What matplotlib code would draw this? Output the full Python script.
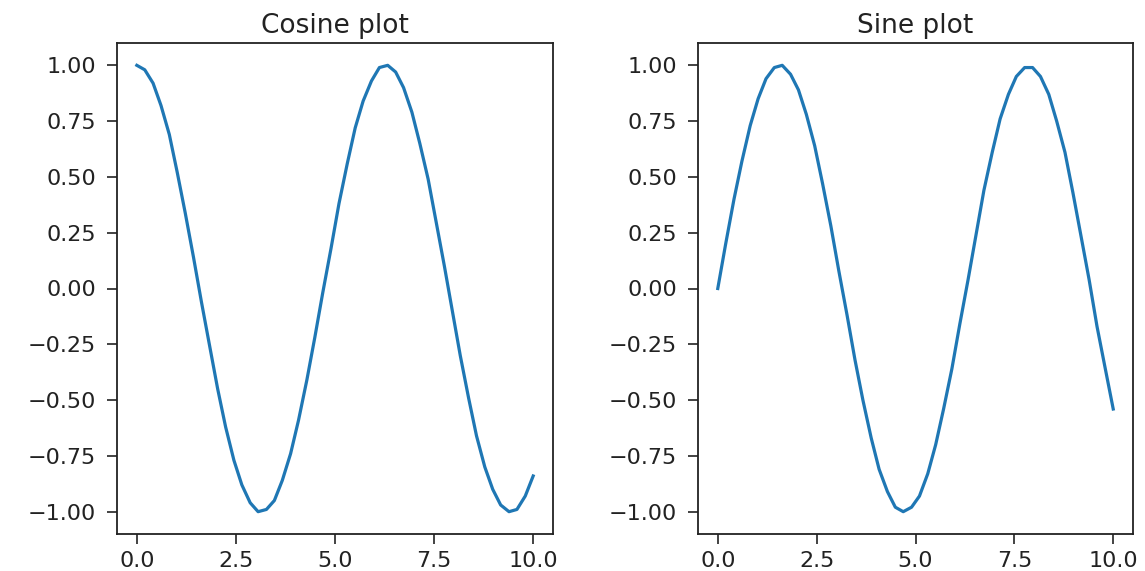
import matplotlib
matplotlib.use('Agg')
import matplotlib.pyplot as plt

# points (50 samples over 0..10)
x = [0.00, 0.20, 0.41, 0.61, 0.82, 1.02, 1.22, 1.43, 1.63, 1.84,
     2.04, 2.24, 2.45, 2.65, 2.86, 3.06, 3.27, 3.47, 3.67, 3.88,
     4.08, 4.29, 4.49, 4.69, 4.90, 5.10, 5.31, 5.51, 5.71, 5.92,
     6.12, 6.33, 6.53, 6.73, 6.94, 7.14, 7.35, 7.55, 7.76, 7.96,
     8.16, 8.37, 8.57, 8.78, 8.98, 9.18, 9.39, 9.59, 9.80, 10.00]

cos_y = [1.00, 0.98, 0.92, 0.82, 0.69, 0.52, 0.34, 0.14, -0.06, -0.26,
         -0.45, -0.62, -0.77, -0.88, -0.96, -1.00, -0.99, -0.95, -0.86, -0.74,
         -0.59, -0.41, -0.22, -0.02, 0.18, 0.38, 0.56, 0.72, 0.84, 0.93,
         0.99, 1.00, 0.97, 0.90, 0.79, 0.65, 0.49, 0.30, 0.10, -0.10,
         -0.30, -0.49, -0.66, -0.80, -0.90, -0.97, -1.00, -0.99, -0.93, -0.84]

sin_y = [0.00, 0.20, 0.40, 0.57, 0.73, 0.85, 0.94, 0.99, 1.00, 0.96,
         0.89, 0.78, 0.64, 0.47, 0.28, 0.08, -0.12, -0.32, -0.50, -0.67,
         -0.81, -0.91, -0.98, -1.00, -0.98, -0.93, -0.83, -0.70, -0.54, -0.36,
         -0.16, 0.04, 0.24, 0.44, 0.61, 0.76, 0.87, 0.95, 0.99, 0.99,
         0.95, 0.87, 0.75, 0.61, 0.43, 0.24, 0.04, -0.17, -0.36, -0.54]

titles = ['Cosine plot', 'Sine plot']

plt.rcParams['text.color'] = '#222222'
plt.rcParams['xtick.color'] = '#222222'
plt.rcParams['ytick.color'] = '#222222'
plt.rcParams['axes.edgecolor'] = '#222222'

fig = plt.figure(figsize=(11.45, 5.71), dpi=100)
W, H = 1145, 571
ax1 = fig.add_axes([117 / W, (H - 534) / H, 436 / W, 491 / H])
ax2 = fig.add_axes([698 / W, (H - 534) / H, 435 / W, 491 / H])

for ax, y, t in zip([ax1, ax2], [cos_y, sin_y], titles):
    ax.plot(x, y, color='#1f77b4', linewidth=2.3)
    ax.set_title(t, fontsize=19, pad=7)
    ax.set_xticks([0.0, 2.5, 5.0, 7.5, 10.0])
    ax.set_yticks([-1.0, -0.75, -0.5, -0.25, 0.0, 0.25, 0.5, 0.75, 1.0])
    ax.tick_params(axis='y', labelsize=16, width=1.2, length=7, pad=8)
    ax.tick_params(axis='x', labelsize=16, width=1.2, length=7, pad=5)
    for s in ax.spines.values():
        s.set_linewidth(1.3)

fig.savefig('out.png', dpi=100)
